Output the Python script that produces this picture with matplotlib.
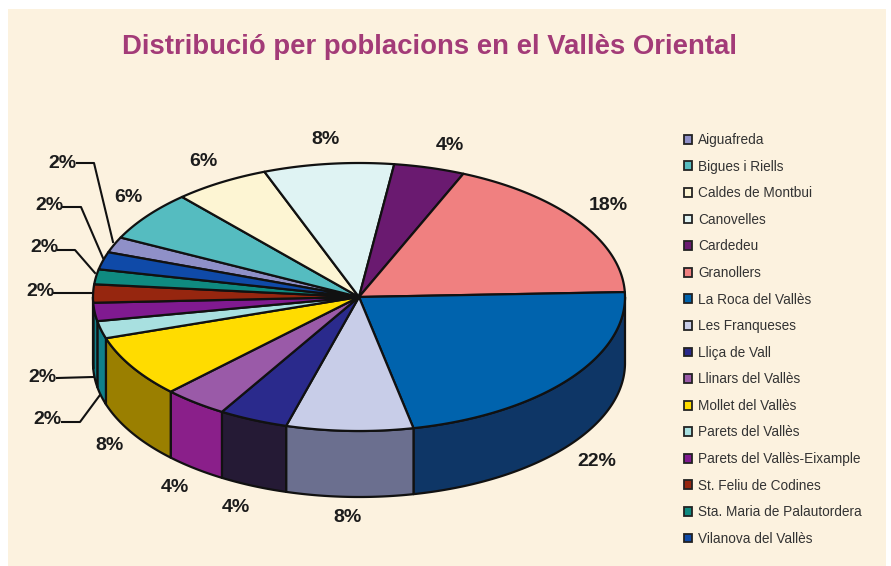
import numpy as np
import matplotlib
matplotlib.use('Agg')
from matplotlib import pyplot as plt
from matplotlib.patches import Patch

title = 'Distribució per poblacions en el Vallès Oriental'

towns = ['Aiguafreda', 'Bigues i Riells', 'Caldes de Montbui', 'Canovelles', 'Cardedeu',
         'Granollers', 'La Roca del Vallès', 'Les Franqueses', 'Lliça de Vall',
         'Llinars del Vallès', 'Mollet del Vallès', 'Parets del Vallès',
         'Parets del Vallès-Eixample', 'St. Feliu de Codines',
         'Sta. Maria de Palautordera', 'Vilanova del Vallès']
shares = [1.9, 6.1, 5.8, 7.9, 4.3, 18.0, 22.3, 7.7, 4.2, 3.9, 7.5, 2.1, 2.2, 2.2, 1.8, 2.1]

top_colors = ['#8f90c8', '#55bcc0', '#fdf5d3', '#dff3f3', '#6a1a70', '#f08080', '#0063ad', '#c8cde8',
              '#2a2a8c', '#9a5aa8', '#ffdc00', '#a8e0e0', '#801a90', '#96260f', '#0f8a80', '#0f4aa8']
side_colors = ['#47487a', '#2a6f72', '#8a8368', '#778a8a', '#350d38', '#784040', '#0e3666', '#6b6f8f',
               '#251a35', '#8a1f8a', '#9a7f00', '#10808a', '#10808a', '#4b1308', '#07453f', '#072554']

# pixel layout of the drawing
cx, cy, rx, ry, depth = 359, 297, 266, 134, 66
first_edge = 160.5

# label centres, same order as towns
label_xy = [(62, 163), (128, 197), (203, 161), (325, 140), (450, 145), (608, 205), (597, 462), (348, 518),
            (236, 507), (175, 487), (110, 445), (47, 420), (42, 377), (40, 292), (44, 248), (49, 205)]

leaders = {0: [(77, 163), (94, 163), (113, 242)],
           15: [(63, 207), (81, 207), (103, 258)],
           14: [(58, 250), (75, 250), (95, 273)],
           13: [(53, 293), (93, 293)],
           12: [(57, 378), (93, 377)],
           11: [(62, 422), (80, 422), (100, 395)]}

edge = '#111111'


def rim(a, b, shift=0):
    t = np.radians(np.linspace(a, b, max(int(abs(b - a) * 2), 2)))
    return cx + rx * np.cos(t), cy + shift - ry * np.sin(t)


fig = plt.figure(figsize=(8.91, 5.66), dpi=100, facecolor='white')
ax = fig.add_axes([0, 0, 1, 1])
ax.set_xlim(0, 891)
ax.set_ylim(566, 0)
ax.axis('off')

ax.fill([8, 886, 886, 8], [9, 9, 566, 566], color='#fcf2df', lw=0)

edges = first_edge - np.cumsum([0] + shares) * 3.6

# side walls, lower half of the ellipse only
for i in range(len(shares)):
    a, b = edges[i] % 360, edges[i + 1] % 360
    if a <= b:
        a += 360
    a, b = min(a, 360), max(b, 180)
    if a <= b:
        continue
    x1, y1 = rim(a, b)
    x2, y2 = rim(b, a, depth)
    ax.fill(np.r_[x1, x2], np.r_[y1, y2], facecolor=side_colors[i], edgecolor=edge, lw=1.6, joinstyle='round')

# top of the pie
for i in range(len(shares)):
    x, y = rim(edges[i], edges[i + 1])
    ax.fill(np.r_[cx, x], np.r_[cy, y], facecolor=top_colors[i], edgecolor=edge, lw=1.6, joinstyle='round')

for i, v in enumerate(shares):
    ax.text(label_xy[i][0], label_xy[i][1], f'{v:.0f}%', ha='center', va='center',
            fontsize=14, fontweight='bold', family='Liberation Sans', color='#1c1c1c')

for pts in leaders.values():
    xs, ys = zip(*pts)
    ax.plot(xs, ys, color=edge, lw=1.5)

ax.text(429, 47, title, ha='center', va='center', fontsize=19.85, fontweight='bold',
        family='Liberation Sans', color='#a33b78')

handles = [Patch(facecolor=c, edgecolor='#222222', lw=1.3) for c in top_colors]
ax.legend(handles, towns, loc='upper left', bbox_to_anchor=(684, 133), bbox_transform=ax.transData,
          frameon=False, ncol=1, handlelength=0.62, handleheight=0.62, handletextpad=0.4, borderpad=0,
          borderaxespad=0, labelspacing=0.925, prop={'family': 'Liberation Sans', 'size': 9.8},
          labelcolor='#333333')

fig.savefig('out.png', dpi=100)
